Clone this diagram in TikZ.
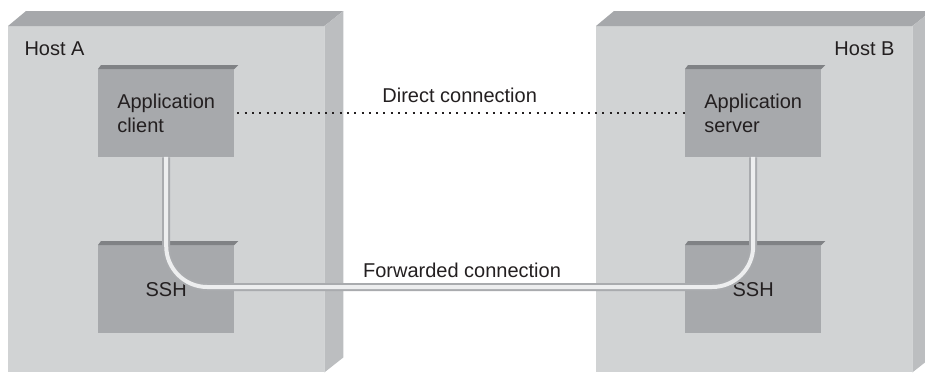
\documentclass[tikz,border=0pt]{standalone}
\usepackage{fontspec}
\setmainfont{Liberation Sans}
\definecolor{hostfront}{HTML}{D1D3D4}
\definecolor{hosttop}{HTML}{A6A8AB}
\definecolor{hostside}{HTML}{BCBEC0}
\definecolor{boxfront}{HTML}{A7A9AC}
\definecolor{boxtop}{HTML}{808285}
\definecolor{pipeedge}{HTML}{A9ABAE}
\definecolor{pipecore}{HTML}{EDEEEF}
\definecolor{ink}{HTML}{231F20}
\begin{document}
\begin{tikzpicture}[x=1pt,y=-1pt,
  every node/.style={font=\fontsize{20}{24}\selectfont, text=ink},
  hostbox/.style={draw=none, fill=hostfront, minimum width=316pt, minimum height=346pt, inner sep=0pt, anchor=north west},
  appbox/.style={draw=none, fill=boxfront, minimum width=136pt, minimum height=88pt, inner sep=0pt, align=left, anchor=north west},
  hosttopface/.style={fill=hosttop},
  hostsideface/.style={fill=hostside},
  boxtopface/.style={fill=boxtop},
  pipeouter/.style={draw=pipeedge, line width=8pt, rounded corners=41pt},
  pipeinner/.style={draw=pipecore, line width=4pt, rounded corners=41pt},
  dotline/.style={draw=ink, line width=2pt, dash pattern=on 2pt off 5.3pt},
  lbl/.style={anchor=base}
]
\clip (0,0) rectangle (925,372);
% hosts
\node[hostbox] (hostA) at (8,26) {};
\node[hostbox] (hostB) at (596,26) {};
\foreach \h in {hostA,hostB}{
  \path[hosttopface] (\h.north west) -- ++(18,-15) -- ([shift={(19,-15)}]\h.north east) -- (\h.north east) -- cycle;
  \path[hostsideface] (\h.north east) -- ++(19,-15) -- ([shift={(19,-15)}]\h.south east) -- (\h.south east) -- cycle;
}
\node[anchor=base west] (labA) at (21,55) {Host A};
\node[anchor=base east] (labB) at (898,55) {Host B};
% application boxes
\node[appbox] (client) at (98,69) {Application\\client};
\node[appbox] (server) at (685,69) {Application\\server};
\node[appbox, align=center] (sshA) at (98,245) {SSH};
\node[appbox, align=center] (sshB) at (685,245) {SSH};
\foreach \b in {client,server,sshA,sshB}{
  \path[boxtopface] (\b.north west) -- ++(3,-4) -- ([shift={(4,-4)}]\b.north east) -- (\b.north east) -- cycle;
}
% direct connection
\draw[dotline, shorten <=3pt] (client.east) -- node[lbl, text=ink, yshift=11pt, pos=0.5] (direct) {Direct connection} (server.west);
% forwarded connection
\coordinate (fwd) at (462,287);
\draw[pipeouter] (client.south) -- (client.south |- fwd) -- (server.south |- fwd) -- (server.south);
\draw[pipeinner] ([yshift=0.5pt]client.south) -- (client.south |- fwd) -- (server.south |- fwd) -- ([yshift=0.5pt]server.south);
\node[lbl] (fwdlabel) at ([yshift=10pt]fwd) {Forwarded connection};
\end{tikzpicture}
\end{document}
